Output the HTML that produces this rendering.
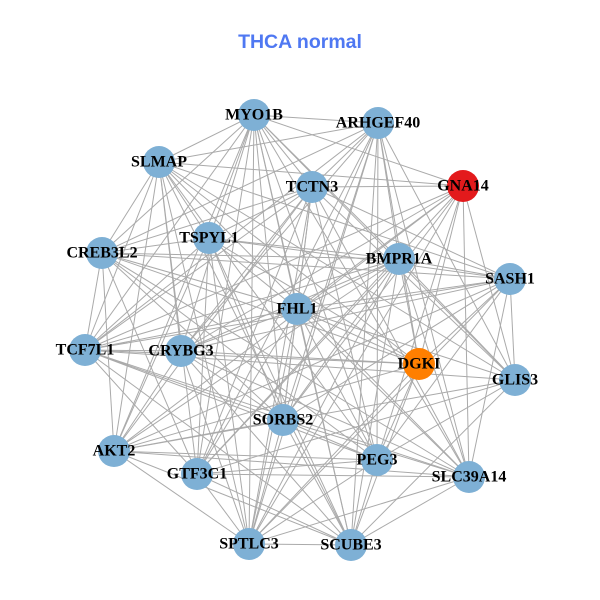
<!DOCTYPE html>
<html><head><meta charset="utf-8"><style>
body{margin:0;background:#fff;width:600px;height:600px;overflow:hidden}
svg{display:block}
.l{font-family:"Liberation Serif",serif;font-weight:bold;font-size:16px;fill:#000;text-anchor:middle;dominant-baseline:central}
</style></head><body>
<svg id="s" width="600" height="600" xmlns="http://www.w3.org/2000/svg">
<text x="300" y="48" font-family="Liberation Sans,sans-serif" font-weight="bold" font-size="19.5" fill="#4f78f2" text-anchor="middle">THCA normal</text>
<g id="e" stroke="#aaaaaa" stroke-width="1"></g>
<g id="n"></g>
<g>
<text class="l" x="254" y="115">MYO1B</text>
<text class="l" x="378" y="123">ARHGEF40</text>
<text class="l" x="159" y="162">SLMAP</text>
<text class="l" x="312" y="187">TCTN3</text>
<text class="l" x="463" y="186">GNA14</text>
<text class="l" x="209" y="238">TSPYL1</text>
<text class="l" x="102" y="253">CREB3L2</text>
<text class="l" x="399" y="259">BMPR1A</text>
<text class="l" x="510" y="279">SASH1</text>
<text class="l" x="297" y="309">FHL1</text>
<text class="l" x="85" y="350">TCF7L1</text>
<text class="l" x="181" y="351">CRYBG3</text>
<text class="l" x="419" y="364">DGKI</text>
<text class="l" x="515" y="380">GLIS3</text>
<text class="l" x="283" y="420">SORBS2</text>
<text class="l" x="114" y="451">AKT2</text>
<text class="l" x="197" y="474">GTF3C1</text>
<text class="l" x="377" y="460">PEG3</text>
<text class="l" x="469" y="477">SLC39A14</text>
<text class="l" x="249" y="544">SPTLC3</text>
<text class="l" x="351" y="545">SCUBE3</text>
</g>
</svg>
<script>
var P=[[254,115],[378,123],[159,162],[312,187],[463,186,'#e31a1c'],[209,238],[102,253],[399,259],[510,279],[297,309],[85,350],[181,351],[419,364,'#ff7f00'],[515,380],[283,420],[114,451],[197,474],[377,460],[469,477],[249,544],[351,545]];
var ns="http://www.w3.org/2000/svg",e=document.getElementById('e'),n=document.getElementById('n');
var seed=7;function r(){seed=(seed*9301+49297)%233280;return seed/233280;}
for(var i=0;i<P.length;i++)for(var j=i+1;j<P.length;j++){if(r()<0.75){var l=document.createElementNS(ns,'line');l.setAttribute('x1',P[i][0]);l.setAttribute('y1',P[i][1]);l.setAttribute('x2',P[j][0]);l.setAttribute('y2',P[j][1]);e.appendChild(l);}}
P.forEach(function(p){var c=document.createElementNS(ns,'circle');c.setAttribute('cx',p[0]);c.setAttribute('cy',p[1]);c.setAttribute('r',16);c.setAttribute('fill',p[2]||'#7eb0d5');n.appendChild(c);});
</script>
</body></html>
